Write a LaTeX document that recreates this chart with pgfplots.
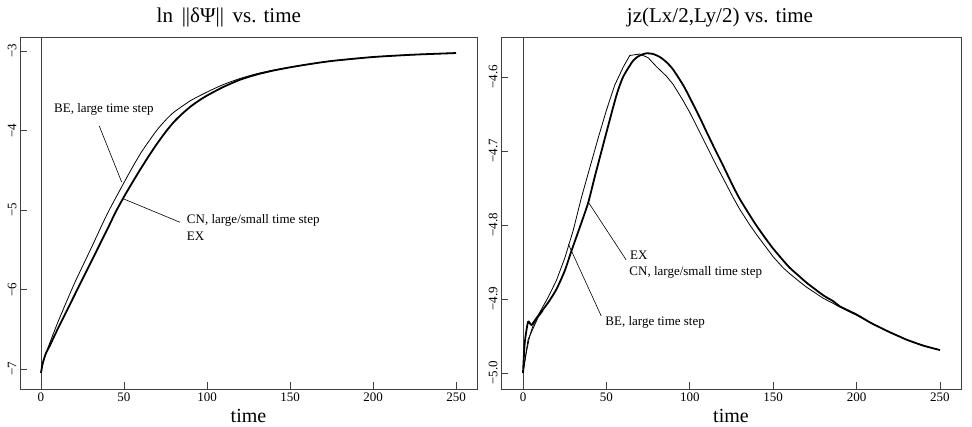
\documentclass[border=0pt]{standalone}
\usepackage{fontspec}
\setmainfont{Liberation Serif}
\usepackage{pgfplots}
\pgfplotsset{compat=1.18}

\pgfplotsset{
  rpanel/.style={
    scale only axis,
    height=352pt,
    xmin=-12.65, xmax=262.65,
    axis line style={black!75, line width=0.9pt},
    tick align=inside, xtick pos=lower, ytick pos=left,
    major tick length=6.5pt,
    tick style={black!75, line width=0.8pt},
    xtick={0,50,100,150,200,250},
    ticklabel style={font=\fontsize{13}{13}\selectfont},
    /pgf/number format/assume math mode=true,
    yticklabel style={rotate=90, anchor=south},
    xlabel={time},
    xlabel style={font=\fontsize{20}{20}\selectfont, at={(axis description cs:0.5,0)}, anchor=base, yshift=-34pt},
    title style={font=\fontsize{21}{21}\selectfont, anchor=base, yshift=8pt},
  },
}
\tikzset{
  bethin/.style={black, line width=0.8pt},
  thk/.style={black, line width=1.8pt, smooth, tension=0.4},
  note/.style={font=\fontsize{13}{13}\selectfont, anchor=west, inner sep=0pt},
}

\begin{document}
\begin{tikzpicture}
\useasboundingbox (0,0) rectangle (972pt,427pt);

% left panel
\begin{axis}[rpanel, at={(20pt,38pt)}, anchor=south west, width=457pt,
  ymin=-7.252, ymax=-2.823, ytick={-7,-6,-5,-4,-3},
  yticklabels={−7,−6,−5,−4,−3},
  title={ln \,||δΨ||\, vs. time}, title style={at={(axis description cs:0.457,1)}}]
\draw[black!75, line width=0.8pt] (axis cs:0,-7.252) -- (axis cs:0,-2.823);
% BE, large time step
\addplot[bethin, smooth, tension=0.4] coordinates {
(0,-7.05) (1,-6.94) (3,-6.80) (10,-6.42) (20,-5.93) (30,-5.49) (40,-5.045)
(50,-4.655) (55,-4.466) (60,-4.287) (65,-4.134) (70,-3.99) (75,-3.87)
(80,-3.77) (90,-3.625) (100,-3.516) (110,-3.42) (120,-3.345) (130,-3.285)
(140,-3.24) (150,-3.203) (160,-3.17) (175,-3.125) (200,-3.075) (225,-3.045)
(250,-3.025)};
% CN large/small time step, EX
\addplot[thk] coordinates {
(0,-7.05) (1,-6.93) (3,-6.80) (5,-6.72) (10,-6.50) (20,-6.08) (30,-5.66)
(40,-5.24) (45,-5.024) (50,-4.833) (55,-4.655) (60,-4.483) (65,-4.318)
(70,-4.163) (75,-4.020) (80,-3.893) (85,-3.79) (90,-3.70) (95,-3.625)
(100,-3.56) (110,-3.45) (120,-3.36) (130,-3.295) (140,-3.245) (150,-3.205)
(160,-3.17) (175,-3.125) (200,-3.075) (225,-3.045) (250,-3.025)};
\draw[line width=0.6pt] (axis cs:35.1,-3.943) -- (axis cs:48.6,-4.649);
\draw[line width=0.6pt] (axis cs:49.6,-4.859) -- (axis cs:83.7,-5.154);
\node[note] at (axis cs:7.8,-3.732) {BE, large time step};
\node[note] at (axis cs:87.8,-5.129) {CN, large/small time step};
\node[note] at (axis cs:87.8,-5.331) {EX};
\end{axis}

% right panel
\begin{axis}[rpanel, at={(501pt,38pt)}, anchor=south west, width=460pt,
  xmin=-13.2, xmax=262.6,
  ymin=-5.0216, ymax=-4.546, ytick={-5.0,-4.9,-4.8,-4.7,-4.6},
  yticklabels={−5.0,−4.9,−4.8,−4.7,−4.6},
  title={jz(Lx/2,Ly/2) vs. time}, title style={at={(axis description cs:0.476,1)}}]
\draw[black!75, line width=0.8pt] (axis cs:0,-5.0216) -- (axis cs:0,-4.546);
% BE, large time step
\addplot[bethin] coordinates {
(0,-5.000) (2,-4.972) (4,-4.950) (6,-4.936) (10,-4.918) (15,-4.898) (20,-4.875)
(25,-4.845) (30,-4.808) (35,-4.763) (40,-4.723) (45,-4.683) (50,-4.645)
(55,-4.611) (60,-4.587) (64,-4.571) (70,-4.569) (75,-4.574) (80,-4.586)
(86,-4.599) (90,-4.610) (96,-4.632) (100,-4.648) (106,-4.675) (110,-4.693)
(116,-4.720) (120,-4.737) (126,-4.763) (130,-4.779) (136,-4.800) (140,-4.813)
(146,-4.831) (150,-4.843) (156,-4.858) (160,-4.866) (166,-4.877) (170,-4.884)
(180,-4.899) (186,-4.906) (190,-4.911) (200,-4.922) (210,-4.934) (220,-4.945)
(230,-4.955) (240,-4.963) (250,-4.969)};
% EX (start)
\addplot[bethin] coordinates {
(0,-5.000) (3,-4.955) (6,-4.940) (9,-4.925) (12,-4.916)};
% CN, large/small time step and EX
\addplot[thk] coordinates {
(0,-5.000) (1,-4.960) (3,-4.931) (5,-4.935) (8,-4.926) (15,-4.905) (20,-4.887)
(25,-4.862) (29.2,-4.834) (35,-4.797) (39.2,-4.769) (43,-4.735) (47.2,-4.699)
(50,-4.675) (56,-4.625) (60,-4.600) (66,-4.578) (70,-4.571) (74,-4.568)
(78,-4.569) (82,-4.573) (86,-4.580) (90,-4.590) (96,-4.611) (100,-4.628)
(106,-4.655) (110,-4.674) (116,-4.702) (120,-4.720) (126,-4.748) (130,-4.765)
(136,-4.787) (140,-4.801) (146,-4.820) (150,-4.832) (156,-4.848) (160,-4.858)
(166,-4.870) (170,-4.878) (180,-4.895) (186,-4.903) (190,-4.910) (200,-4.921)
(206,-4.929) (210,-4.934) (220,-4.945) (226,-4.951) (230,-4.955) (240,-4.963)
(250,-4.969)};
\draw[line width=0.6pt] (axis cs:39.1,-4.769) -- (axis cs:61.8,-4.847);
\draw[line width=0.6pt] (axis cs:27.2,-4.826) -- (axis cs:46.9,-4.923);
\node[note] at (axis cs:64.1,-4.841) {EX};
\node[note] at (axis cs:63.7,-4.864) {CN, large/small time step};
\node[note] at (axis cs:49.3,-4.931) {BE, large time step};
\end{axis}
\end{tikzpicture}
\end{document}
